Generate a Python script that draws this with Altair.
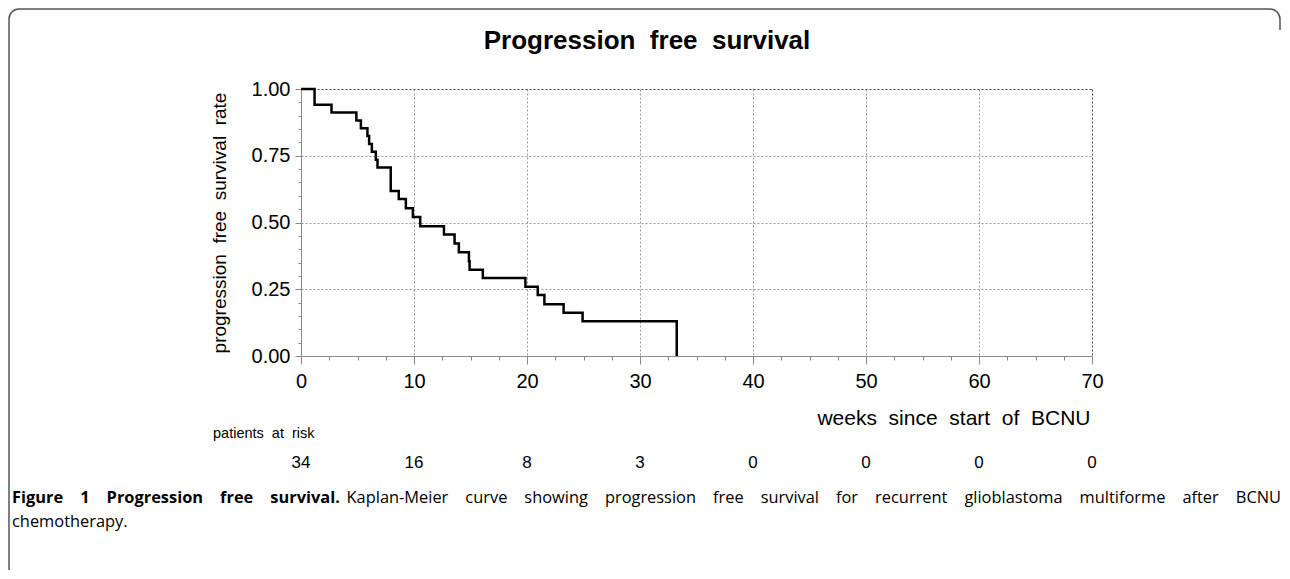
import altair as alt
import pandas as pd

# Kaplan-Meier step data
weeks = [0, 1.2, 2.7, 4.9, 5.3, 5.88, 6.03, 6.27, 6.62, 6.77, 7.94, 8.65, 9.28,
         9.9, 10.55, 12.65, 13.59, 13.97, 14.86, 14.92, 16.09, 19.86, 20.95,
         21.54, 23.24, 24.92, 33.25]
survival = [1.0, 0.941, 0.912, 0.882, 0.853, 0.824, 0.794, 0.765, 0.735, 0.706,
            0.618, 0.588, 0.553, 0.521, 0.486, 0.455, 0.421, 0.389, 0.355,
            0.323, 0.292, 0.259, 0.228, 0.194, 0.162, 0.130, 0.0]

risk_weeks = [0, 10, 20, 30, 40, 50, 60, 70]
risk_counts = [34, 16, 8, 3, 0, 0, 0, 0]

x_tick_values = [i * 2.5 for i in range(29)]
y_tick_values = [round(i * 0.05, 2) for i in range(21)]

SP = " \u00a0"          # wide SAS-like word spacing
CSP = "\u00a0" * 4      # justified caption spacing

title_text = SP.join(["Progression", "free", "survival"])
ytitle_text = SP.join(["progression", "free", "survival", "rate"])
xtitle_text = SP.join(["weeks", "since", "start", "of", "BCNU"])
risk_label = SP.join(["patients", "at", "risk"])
cap_bold = CSP.join(["Figure", "1", "Progression", "free", "survival."])
cap_rest = CSP.join(["Kaplan-Meier", "curve", "showing", "progression", "free",
                     "survival", "for", "recurrent", "glioblastoma", "multiforme",
                     "after", "BCNU"])
cap_line2 = "chemotherapy."

km_df = pd.DataFrame({"week": weeks, "surv": survival})
risk_df = pd.DataFrame({"week": risk_weeks, "n": risk_counts})

W, H = 791, 267
FONT = "Liberation Sans"
AXC = "#888888"

x_major = "datum.value % 10 == 0"
y_major = "abs(datum.value*4 - round(datum.value*4)) < 0.001"

xaxis = alt.Axis(
    values=x_tick_values,
    labelExpr=f"{x_major} ? datum.label : ''",
    labelFlush=False, labelOverlap=False,
    labelFont=FONT, labelFontSize=20, labelColor="black",
    labelPadding=7,
    tickSize={"condition": {"test": x_major, "value": 8}, "value": 4},
    tickColor=AXC, domainColor=AXC,
    gridOpacity={"condition": {"test": f"{x_major} && datum.value > 0", "value": 1}, "value": 0},
    gridColor={"condition": {"test": "datum.value > 69", "value": "#444444"}, "value": "#999999"},
    gridDash=[2, 2],
    title=xtitle_text, titleFont=FONT, titleFontSize=21, titleFontWeight="normal",
    titleColor="black", titleX=789, titleY=62, titleAlign="right",
    titleBaseline="middle", titleAnchor="end",
)

yaxis = alt.Axis(
    values=y_tick_values,
    labelExpr=f"{y_major} ? format(datum.value, '.2f') : ''",
    labelOverlap=False,
    labelFont=FONT, labelFontSize=20, labelColor="black",
    labelPadding=5,
    tickSize={"condition": {"test": y_major, "value": 6}, "value": 3},
    tickColor=AXC, domainColor=AXC,
    gridOpacity={"condition": {"test": f"{y_major} && datum.value > 0.01", "value": 1}, "value": 0},
    gridColor={"condition": {"test": "datum.value > 0.99", "value": "#444444"}, "value": "#999999"},
    gridDash=[2, 2],
    title=ytitle_text, titleFont=FONT, titleFontSize=19, titleFontWeight="normal",
    titleColor="black", titleAngle=270, titleX=-82, titleY=133.5,
    titleAlign="center", titleBaseline="middle",
)

xenc = alt.X("week:Q", scale=alt.Scale(domain=[0, 70], nice=False), axis=xaxis)
one = pd.DataFrame({"k": [0]})

frame = alt.Chart(one).mark_rect(
    filled=False, stroke="#555555", strokeWidth=1.5, cornerRadius=10
).encode(x=alt.value(-292), x2=alt.value(979), y=alt.value(-80), y2=alt.value(700))

cover = alt.Chart(one).mark_rect(color="white").encode(
    x=alt.value(960), x2=alt.value(1000), y=alt.value(-59), y2=alt.value(700))

km = alt.Chart(km_df).mark_line(
    interpolate="step-after", color="black", strokeWidth=2.5
).encode(
    x=xenc,
    y=alt.Y("surv:Q", scale=alt.Scale(domain=[0, 1], nice=False), axis=yaxis),
)

risk = alt.Chart(risk_df).mark_text(
    font=FONT, fontSize=17, color="black", align="center", baseline="middle"
).encode(
    x=xenc,
    y=alt.value(374),
    text="n:Q",
)


def label(txt, x, y, **kw):
    return alt.Chart(pd.DataFrame({"t": [txt]})).mark_text(
        baseline="middle", color="black", **kw
    ).encode(text="t:N", x=alt.value(x), y=alt.value(y))


title_m = label(title_text, 346, -48, font=FONT, fontSize=26, fontWeight="bold", align="center")
risk_m = label(risk_label, -88, 345, font=FONT, fontSize=14.5, align="left")
cap1a = label(cap_bold, -289, 409, font="Open Sans", fontSize=16.4, fontWeight="bold", align="left")
cap1b = label(cap_rest, 980, 409, font="Open Sans", fontSize=16.4, align="right")
cap2 = label(cap_line2, -289, 433, font="Open Sans", fontSize=16.4, align="left")

chart = alt.layer(
    frame, cover, km, risk, title_m, risk_m, cap1a, cap1b, cap2
).properties(
    width=W, height=H,
    autosize=alt.AutoSizeParams(type="none"),
    padding={"left": 293, "top": 81, "right": 190, "bottom": 214},
    background="white",
).configure_view(strokeOpacity=0)

chart.save("out.html", embed_options={"renderer": "svg", "actions": False})
